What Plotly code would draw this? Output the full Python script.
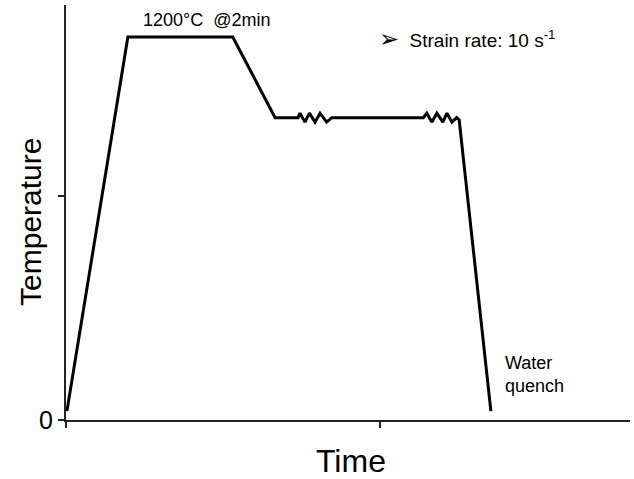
import plotly.graph_objects as go

# Thermal profile (time in arbitrary units, temperature in arbitrary units; 1 tick = 1 unit)
time_vals = [0.003, 0.197, 0.531, 0.666,
             0.739, 0.745, 0.761, 0.775, 0.793, 0.809, 0.830, 0.846,
             1.138, 1.149, 1.165, 1.181, 1.200, 1.213, 1.229, 1.244, 1.252,
             1.353]
temp_vals = [0.04, 1.71, 1.71, 1.35,
             1.35, 1.37, 1.33, 1.37, 1.33, 1.37, 1.33, 1.35,
             1.35, 1.37, 1.33, 1.37, 1.33, 1.37, 1.33, 1.35, 1.34,
             0.04]

x_ticks = [0, 1]
y_ticks = [0, 1]
y_tick_labels = ["0", ""]

font_family = "Liberation Sans, Arial, sans-serif"

fig = go.Figure()
fig.add_trace(go.Scatter(x=time_vals, y=temp_vals, mode="lines",
                         line=dict(color="black", width=3),
                         hoverinfo="skip", showlegend=False))

fig.update_layout(
    width=634, height=479,
    margin=dict(l=66, r=4, t=5, b=59),
    paper_bgcolor="white", plot_bgcolor="white",
    font=dict(family=font_family, color="black"),
    xaxis=dict(range=[0, 1.796], showgrid=False, zeroline=False,
               showline=True, linecolor="#222", linewidth=2,
               ticks="outside", ticklen=6, tickwidth=2, tickcolor="#222",
               tickvals=x_ticks, showticklabels=False),
    yaxis=dict(range=[0, 1.853], showgrid=False, zeroline=False,
               showline=True, linecolor="#222", linewidth=2,
               ticks="outside", ticklen=6, tickwidth=2, tickcolor="#222",
               tickvals=y_ticks, ticktext=y_tick_labels,
               tickfont=dict(size=25, family=font_family, color="black")),
    annotations=[
        dict(text="Time", xref="paper", yref="paper", x=0.505, y=-0.099,
             xanchor="center", yanchor="middle", showarrow=False,
             font=dict(size=32)),
        dict(text="Temperature", xref="paper", yref="paper", x=-0.064, y=0.477,
             xanchor="center", yanchor="middle", showarrow=False, textangle=-90,
             font=dict(size=30)),
        dict(text="1200°C\u00a0 @2min", xref="x", yref="y", x=0.448, y=1.786,
             xanchor="center", yanchor="middle", showarrow=False,
             font=dict(size=18)),
        dict(text="<span style='font-size:24px'>➢</span>\u00a0 Strain rate: 10 s<sup>-1</sup>",
             xref="x", yref="y", x=1.279, y=1.705,
             xanchor="center", yanchor="middle", showarrow=False,
             font=dict(size=19)),
        dict(text="Water<br>quench", xref="x", yref="y", x=1.392, y=0.205,
             xanchor="left", yanchor="middle", align="left", showarrow=False,
             font=dict(size=18)),
    ],
)

fig.write_html("out.html", config={"displayModeBar": False},
               post_script="document.body.style.margin='0';document.body.style.padding='0';")
